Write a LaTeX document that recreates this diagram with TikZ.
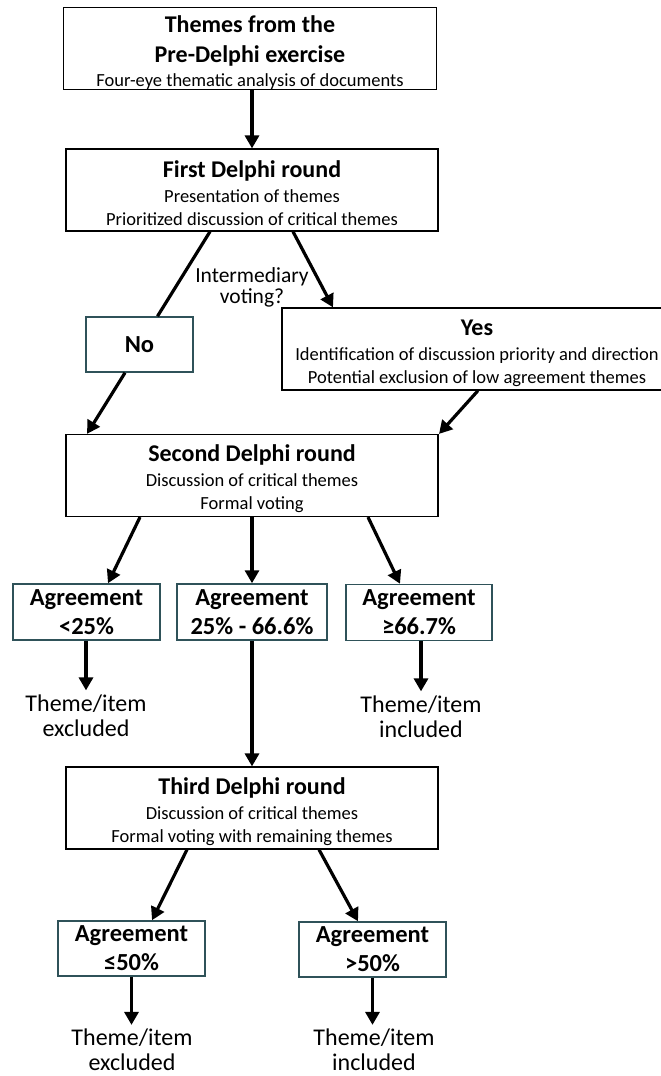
\documentclass[tikz,border=0pt]{standalone}
\usepackage{fontspec}
\setmainfont{Carlito}
\usetikzlibrary{arrows.meta}

\definecolor{boxteal}{HTML}{2F5259}
\newcommand{\headfont}{\bfseries\fontsize{24}{30}\selectfont}
\newcommand{\bodyfont}{\fontsize{18.5}{23}\selectfont}
\newcommand{\headstrut}{\rule{0pt}{24pt}}

\begin{document}
\begin{tikzpicture}[
    x = 1pt,
    y = -1pt,
    stage/.style = {draw,
      line width = 1.2pt,
      align = center,
      inner sep = 0pt,
      minimum width = 372pt,
      minimum height = 82pt,
      font = \bodyfont},
    answer/.style = {draw = boxteal,
      line width = 1.5pt,
      align = center,
      inner sep = 0pt,
      minimum height = 55pt,
      font = \bfseries\fontsize{24.5}{29}\selectfont},
    outcome/.style = {align = center,
      inner sep = 4pt,
      font = \fontsize{24}{25}\selectfont},
    flow/.style = {line width = 3.2pt,
      -{Triangle[length = 13pt, width = 14pt]}},
    flowline/.style = {line width = 3.2pt},
    ]

    \useasboundingbox (0, 0) rectangle (661, 1076);

    \node at (250, 48.5)
    [stage, minimum width = 373pt, name = pre]
    {{\headfont\headstrut Themes from the}\\[7pt]{\headfont Pre-Delphi exercise}\\[1pt]Four-eye thematic analysis of documents};

    \node at (252, 190)
    [stage, name = first]
    {{\headfont\headstrut First Delphi round}\\[2pt]Presentation of themes\\Prioritized discussion of critical themes};

    \node at (252, 287.5)
    [align = center, inner sep = 0pt, font = \fontsize{21.5}{21}\selectfont, name = question]
    {Intermediary\\voting?};

    \node at (139.5, 344.5)
    [answer, minimum width = 107pt, name = no] {No};
    \node at (477, 349)
    [stage, minimum width = 390pt, name = yes]
    {{\headfont\headstrut Yes}\\[2pt]Identification of discussion priority and direction\\Potential exclusion of low agreement themes};

    \node at (252, 475.5)
    [stage, name = second]
    {{\headfont\headstrut Second Delphi round}\\[2pt]Discussion of critical themes\\Formal voting};

    \node at (86.5, 612)
    [answer, minimum width = 147pt, minimum height = 56pt, name = low] {Agreement\\<25\%};
    \node at (252, 612)
    [answer, minimum width = 150pt, minimum height = 56pt, name = mid] {Agreement\\25\% - 66.6\%};
    \node at (419, 612.5)
    [answer, minimum width = 146pt, minimum height = 56pt, name = high] {Agreement\\≥66.7\%};

    \node at (86, 715.5)
    [outcome, name = excluded] {Theme/item\\excluded};
    \node at (421, 716.5)
    [outcome, name = included] {Theme/item\\included};

    \node at (252, 808)
    [stage, name = third]
    {{\headfont\headstrut Third Delphi round}\\[2pt]Discussion of critical themes\\Formal voting with remaining themes};

    \node at (131.5, 948.5)
    [answer, minimum width = 147pt, name = atmost] {Agreement\\≤50\%};
    \node at (372.5, 949.5)
    [answer, minimum width = 147pt, name = above] {Agreement\\>50\%};

    \node at (132, 1050)
    [outcome, name = excludedfinal] {Theme/item\\excluded};
    \node at (374, 1050)
    [outcome, name = includedfinal] {Theme/item\\included};

    \draw [flow] (first.north |- pre.south) to (first.north);

    \draw [flowline] ([xshift = -42]first.south) to ([xshift = 18]no.north);
    \draw [flow] ([xshift = -14.5]no.south) to ([xshift = -165]second.north);
    \draw [flow] ([xshift = 41]first.south) to ([xshift = -144]yes.north);
    \draw [flow] ([xshift = 1]yes.south) to ([xshift = 187]second.north);

    \draw [flow] ([xshift = -112]second.south) to ([xshift = 21.5]low.north);
    \draw [flow] (second.south) to (mid.north);
    \draw [flow] ([xshift = 116]second.south) to ([xshift = -19]high.north);

    \draw [flow] (low.south -| excluded) to (excluded.north);
    \draw [flow] (high.south -| included) to (included.north);
    \draw [flow] (mid.south) to (third.north);

    \draw [flow] ([xshift = -65]third.south) to ([xshift = 20.5]atmost.north);
    \draw [flow] ([xshift = 67]third.south) to ([xshift = -14.5]above.north);

    \draw [flow] (atmost.south) to (excludedfinal.north -| atmost.south);
    \draw [flow] (above.south) to (includedfinal.north -| above.south);
  \end{tikzpicture}
\end{document}
